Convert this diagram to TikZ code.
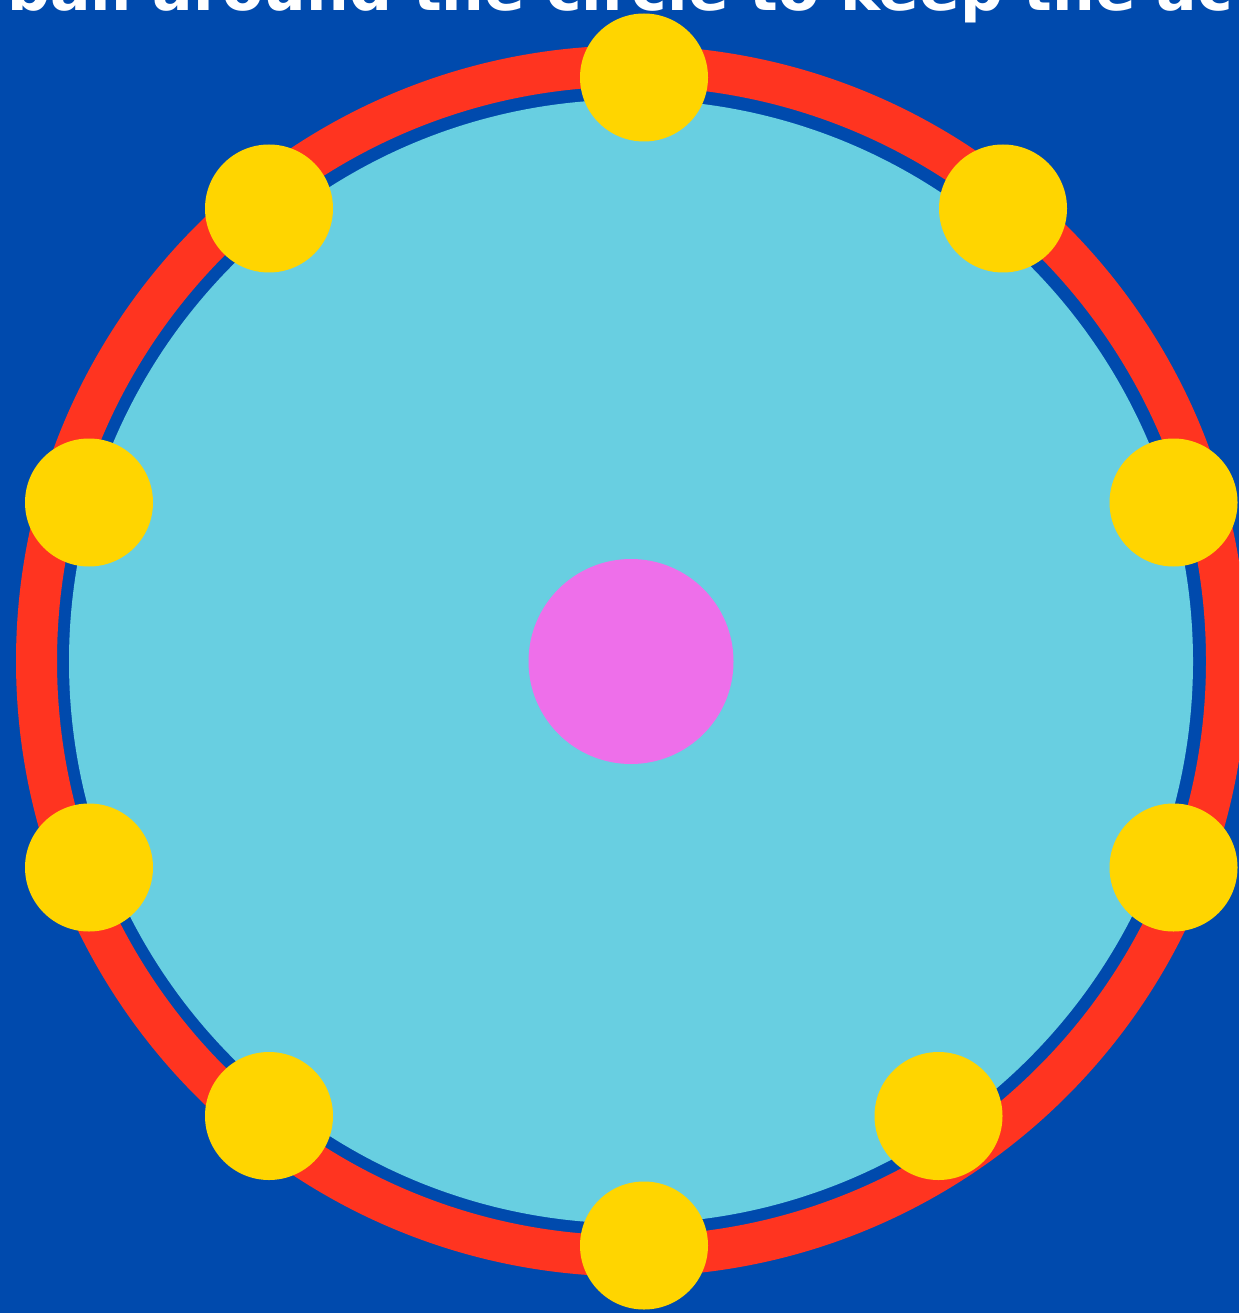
\documentclass[tikz,border=0pt]{standalone}
\usepackage{fontspec}
\setmainfont{DejaVu Sans}
\definecolor{bgblue}{HTML}{004AAD}
\definecolor{ringred}{HTML}{FF3420}
\definecolor{fieldcyan}{HTML}{68CFE1}
\definecolor{ballyellow}{HTML}{FFD500}
\definecolor{centerpink}{HTML}{EE6FEA}
\begin{document}
\begin{tikzpicture}[x=1pt,y=-1pt,
  ball/.style={circle,fill=ballyellow,draw=none,inner sep=0pt,minimum size=128pt},
  hub/.style={circle,fill=centerpink,draw=none,inner sep=0pt,minimum size=205pt},
  titletext/.style={text=white,font=\fontsize{60}{66}\selectfont\bfseries,inner sep=0pt}]
\useasboundingbox (0,0) rectangle (1239,1313);
\clip (0,0) rectangle (1239,1313);
\fill[bgblue] (0,0) rectangle (1239,1313);
\node[titletext,anchor=base] (title) at (620,11) {ball around the circle to keep the ac};
\draw[ringred,line width=41pt] (631.5,661) circle[radius=595];
\fill[fieldcyan] (631,661.5) circle[radius=562];
\node[hub] (center) at (631,661.5) {};
\node[ball] (b1) at (644,77.5) {};
\node[ball] (b2) at (1003,208.5) {};
\node[ball] (b3) at (1173.5,502.5) {};
\node[ball] (b4) at (1173.5,867.5) {};
\node[ball] (b5) at (938.5,1116) {};
\node[ball] (b6) at (644,1245.5) {};
\node[ball] (b7) at (269,1116) {};
\node[ball] (b8) at (89,867.5) {};
\node[ball] (b9) at (89,502.5) {};
\node[ball] (b10) at (269,208.5) {};
\end{tikzpicture}
\end{document}
